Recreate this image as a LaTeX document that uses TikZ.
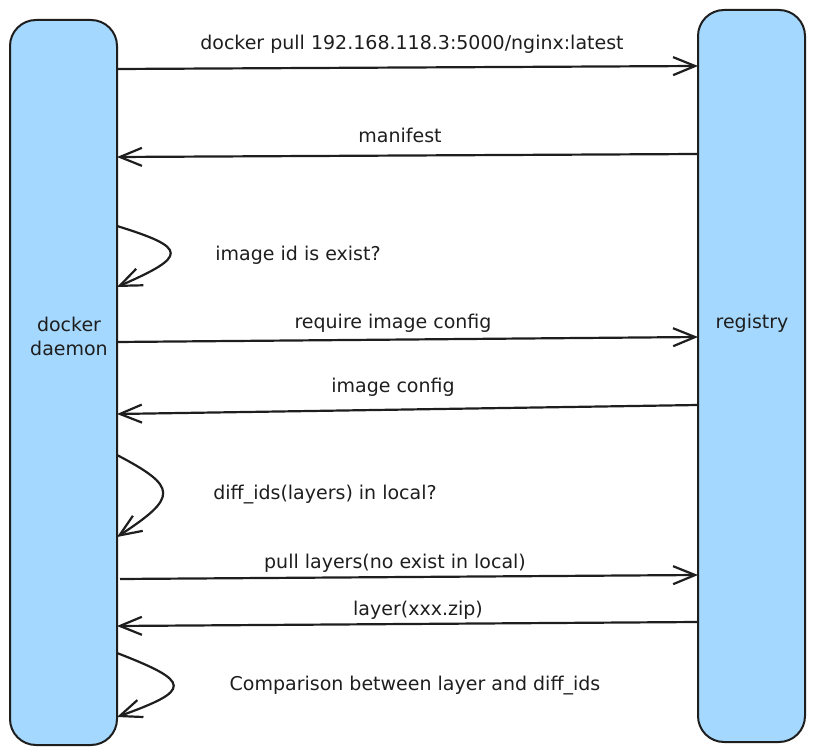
\documentclass[tikz,border=0pt]{standalone}
\usepackage{fontspec}
\setmainfont{DejaVu Sans}
\usetikzlibrary{arrows.meta}
\definecolor{boxblue}{HTML}{A5D8FF}
\definecolor{ink}{HTML}{1E1E1E}
\begin{document}
\begin{tikzpicture}[x=1pt,y=-1pt,
  lane/.style={draw=ink,line width=2pt,fill=boxblue,rounded corners=26pt,minimum width=107pt,inner sep=0pt,align=center},
  msg/.style={draw=ink,line width=2.2pt,-{Straight Barb[length=22pt,width=18pt,line width=2.2pt]}},
  lbl/.style={font=\fontsize{19}{24}\selectfont,text=ink,inner sep=1pt}]
\useasboundingbox (0,0) rectangle (815,754);
\node[lane,minimum height=725pt] (dd) at (63.5,382.5) {};
\node[lane,minimum height=732pt] (rg) at (751.5,376) {};
\node[lbl,align=center] (ddt) at (69,336) {docker\\daemon};
\node[lbl] (rgt) at (752,323) {registry};
% edge coordinates
\coordinate (l1) at (117,69);  \coordinate (r1) at (698,66);
\coordinate (l2) at (117,157); \coordinate (r2) at (698,154);
\coordinate (s1a) at (117,226); \coordinate (s1b) at (117,287);
\coordinate (l4) at (117,342); \coordinate (r4) at (698,337);
\coordinate (l5) at (117,414); \coordinate (r5) at (698,405);
\coordinate (s2a) at (117,455); \coordinate (s2b) at (117,537);
\coordinate (l7) at (120,579); \coordinate (r7) at (698,575);
\coordinate (l8) at (117,626); \coordinate (r8) at (698,622);
\coordinate (s3a) at (117,653); \coordinate (s3b) at (117,717);
% messages
\draw[msg] (l1) -- (r1);
\node[lbl] (t1) at (412,44) {docker pull 192.168.118.3:5000/nginx:latest};
\draw[msg] (r2) -- (l2);
\node[lbl] (t2) at (400,135) {manifest};
\draw[msg] (s1a) .. controls (188,248) and (188,256) .. (s1b);
\node[lbl] (t3) at (298,255) {image id is exist?};
\draw[msg] (l4) -- (r4);
\node[lbl] (t4) at (393,323) {require image config};
\draw[msg] (r5) -- (l5);
\node[lbl] (t5) at (393,387) {image config};
\draw[msg] (s2a) .. controls (178,487) and (178,497) .. (s2b);
\node[lbl] (t6) at (325,495) {diff\_ids(layers) in local?};
\draw[msg] (l7) -- (r7);
\node[lbl] (t7) at (395,563) {pull layers(no exist in local)};
\draw[msg] (r8) -- (l8);
\node[lbl] (t8) at (418,610) {layer(xxx.zip)};
\draw[msg] (s3a) .. controls (192,682) and (192,690) .. (s3b);
\node[lbl] (t9) at (415,686) {Comparison between layer and diff\_ids};
\end{tikzpicture}
\end{document}
